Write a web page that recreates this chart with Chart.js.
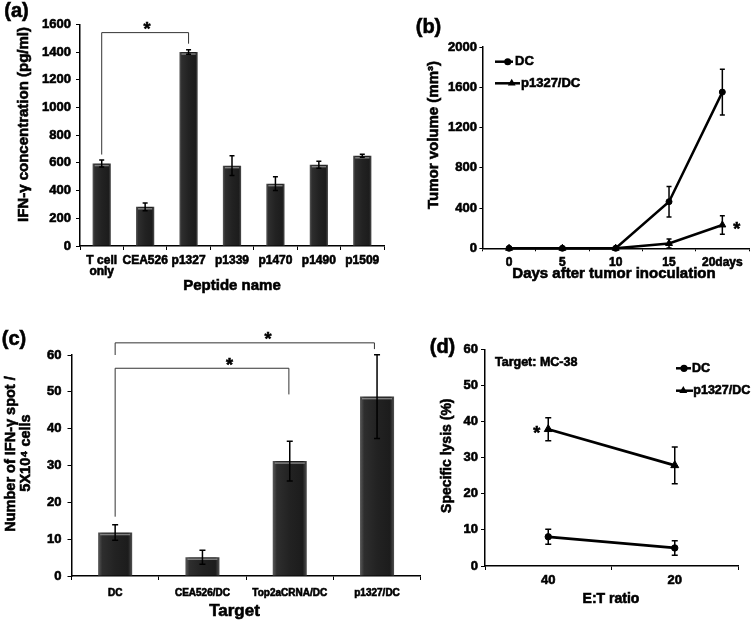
<!DOCTYPE html>
<html>
<head>
<meta charset="utf-8">
<title>IFN-gamma / tumor / ELISPOT / CTL panels</title>
<script src="https://cdn.jsdelivr.net/npm/chart.js@4.4.1/dist/chart.umd.min.js"></script>
<style>
  html, body { margin: 0; padding: 0; background: #fff; }
  #wrap { position: relative; width: 756px; height: 624px; }
  #wrap canvas { position: absolute; left: 0; top: 0; }
</style>
</head>
<body>
<div id="wrap">
  <canvas id="chartA" width="756" height="624"></canvas>
  <canvas id="chartB" width="756" height="624"></canvas>
  <canvas id="chartC" width="756" height="624"></canvas>
  <canvas id="chartD" width="756" height="624"></canvas>
</div>
<script>
// (a) IFN-gamma release per peptide
const peptideLabels = [['T cell', 'only'], 'CEA526', 'p1327', 'p1339', 'p1470', 'p1490', 'p1509'];
const ifnValues = [595, 283, 1400, 580, 450, 587, 651];
const ifnErrors = [25, 28, 17, 71, 49, 25, 11];

// (b) tumor growth
const dayLabels = ['0', '5', '10', '15', '20days'];
const tumorDC = [0, 0, 0, 463, 1552];
const tumorDCErr = [0, 0, 0, 152, 227];
const tumorP1327 = [0, 0, 0, 48, 232];
const tumorP1327Err = [0, 0, 0, 45, 92];

// (c) ELISPOT
const targetLabels = ['DC', 'CEA526/DC', 'Top2aCRNA/DC', 'p1327/DC'];
const spotValues = [11.8, 5.1, 31.2, 48.7];
const spotErrors = [2.1, 1.9, 5.4, 11.4];

// (d) cytotoxicity
const ratioLabels = ['40', '20'];
const lysisDC = [8.1, 5.0];
const lysisDCErr = [2.1, 2.0];
const lysisP1327 = [37.9, 27.9];
const lysisP1327Err = [3.2, 5.1];

// significance marks, in data units (category index, value)
const bracketsA = [{ x1: 0, x2: 2, y: 1540, y1: 660, y2: 1460, sx: 1.04, sy: 1602 }];
const bracketsC = [
  { x1: 0, x2: 2.97, y: 63.3, y1: 60, y2: 61.6, sx: 1.75, sy: 65.6 },
  { x1: 0, x2: 1.99, y: 56.4, y1: 16.1, y2: 49.3, sx: 1.31, sy: 58.5 }
];
const starsB = [{ sx: 4.27, sy: 241 }];
const starsD = [{ sx: -0.09, sy: 38.1 }];

const FONT = '"Liberation Sans", Arial, Helvetica, sans-serif';
const HEAVY = 0.6; // extra stroke to thicken the bold glyphs
Chart.defaults.font.family = FONT;
Chart.defaults.font.weight = 'bold';
Chart.defaults.color = '#000';
Chart.defaults.animation = false;
Chart.defaults.plugins.legend.display = false;
Chart.defaults.plugins.tooltip.enabled = false;

const heavyText = (ctx, text, x, y) => {
  ctx.lineWidth = HEAVY;
  ctx.strokeStyle = '#000';
  ctx.strokeText(text, x, y);
  ctx.fillText(text, x, y);
};

const drawMarker = (ctx, style, x, y, r) => {
  ctx.beginPath();
  if (style === 'triangle') {
    ctx.moveTo(x, y - r);
    ctx.lineTo(x + r * 0.866, y + r * 0.5);
    ctx.lineTo(x - r * 0.866, y + r * 0.5);
    ctx.closePath();
  } else {
    ctx.arc(x, y, r, 0, Math.PI * 2);
  }
  ctx.fill();
};

const drawStar = (ctx, x, y) => {
  ctx.font = 'bold 18px ' + FONT;
  ctx.textAlign = 'center';
  ctx.textBaseline = 'alphabetic';
  heavyText(ctx, '*', x, y + 10.5);
};

// light band near the top of each bar
const barShine = {
  id: 'barShine',
  afterDatasetsDraw(chart) {
    if (chart.config.type !== 'bar') return;
    const ctx = chart.ctx;
    chart.getDatasetMeta(0).data.forEach((el) => {
      const { x, y, width } = el.getProps(['x', 'y', 'width'], true);
      ctx.save();
      ctx.strokeStyle = 'rgba(150,150,150,0.8)';
      ctx.lineWidth = 1.5;
      ctx.beginPath();
      ctx.moveTo(x - width / 2 + 2, y + 2);
      ctx.lineTo(x + width / 2 - 2, y + 2);
      ctx.stroke();
      ctx.restore();
    });
  }
};

const errorBars = {
  id: 'errorBars',
  afterDatasetsDraw(chart, args, opts) {
    const ctx = chart.ctx;
    const yScale = chart.scales.y;
    const cap = opts.cap || 3;
    chart.data.datasets.forEach((ds, i) => {
      if (!ds.errors) return;
      chart.getDatasetMeta(i).data.forEach((el, j) => {
        const e = ds.errors[j];
        if (!e) return;
        const top = yScale.getPixelForValue(ds.data[j] + e);
        const bot = yScale.getPixelForValue(ds.data[j] - e);
        ctx.save();
        ctx.strokeStyle = '#000';
        ctx.lineWidth = 1.5;
        ctx.beginPath();
        ctx.moveTo(el.x, top); ctx.lineTo(el.x, bot);
        ctx.moveTo(el.x - cap, top); ctx.lineTo(el.x + cap, top);
        ctx.moveTo(el.x - cap, bot); ctx.lineTo(el.x + cap, bot);
        ctx.stroke();
        ctx.restore();
      });
    });
  }
};

const brackets = {
  id: 'brackets',
  afterDraw(chart, args, opts) {
    const ctx = chart.ctx;
    const xs = chart.scales.x, ys = chart.scales.y;
    const px = (v) => xs.getPixelForValue(0) + v * (xs.getPixelForValue(1) - xs.getPixelForValue(0));
    ctx.save();
    ctx.fillStyle = '#000';
    (opts.items || []).forEach((b) => {
      if (b.x2 !== undefined) {
        ctx.strokeStyle = '#333';
        ctx.lineWidth = 1;
        ctx.beginPath();
        ctx.moveTo(px(b.x1), ys.getPixelForValue(b.y1));
        ctx.lineTo(px(b.x1), ys.getPixelForValue(b.y));
        ctx.lineTo(px(b.x2), ys.getPixelForValue(b.y));
        ctx.lineTo(px(b.x2), ys.getPixelForValue(b.y2));
        ctx.stroke();
      }
      drawStar(ctx, px(b.sx), ys.getPixelForValue(b.sy));
    });
    ctx.restore();
  }
};

// free text: panel letters, axis titles, notes
const freeText = {
  id: 'freeText',
  afterDraw(chart, args, opts) {
    const ctx = chart.ctx;
    (opts.items || []).forEach((t) => {
      ctx.save();
      ctx.fillStyle = '#000';
      ctx.font = 'bold ' + t.size + 'px ' + FONT;
      ctx.textAlign = t.align || 'center';
      ctx.textBaseline = 'middle';
      ctx.translate(t.x, t.y);
      if (t.rot) ctx.rotate(-Math.PI / 2);
      heavyText(ctx, t.text, 0, 0);
      ctx.restore();
    });
  }
};

// line + marker legend
const keyLegend = {
  id: 'keyLegend',
  afterDraw(chart, args, opts) {
    const ctx = chart.ctx;
    (opts.items || []).forEach((k) => {
      ctx.save();
      ctx.strokeStyle = '#000';
      ctx.fillStyle = '#000';
      ctx.lineWidth = 2.5;
      ctx.beginPath();
      ctx.moveTo(k.x0, k.y);
      ctx.lineTo(k.x1, k.y);
      ctx.stroke();
      drawMarker(ctx, k.style, k.mx, k.y, k.r);
      ctx.font = 'bold ' + opts.size + 'px ' + FONT;
      ctx.textAlign = 'left';
      ctx.textBaseline = 'middle';
      heavyText(ctx, k.text, k.tx, k.y);
      ctx.restore();
    });
  }
};

Chart.register(barShine, errorBars, brackets, freeText, keyLegend);

const yAxis = (max, step, tl, pad, width) => ({
  min: 0,
  max: max,
  ticks: {
    stepSize: step,
    padding: pad,
    font: { size: 13, weight: 'bold', family: FONT },
    textStrokeColor: '#000',
    textStrokeWidth: HEAVY,
    callback: (v) => String(v)
  },
  grid: { drawOnChartArea: false, drawTicks: true, tickLength: tl, color: '#000', lineWidth: 1 },
  border: { color: '#000', width: 1.5 },
  afterFit: (scale) => { scale.width = width; }
});

const xAxis = (tl, pad, size, lineHeight, height) => ({
  type: 'category',
  offset: true,
  ticks: {
    padding: pad,
    font: { size: size, lineHeight: lineHeight, weight: 'bold', family: FONT },
    textStrokeColor: '#000',
    textStrokeWidth: HEAVY,
    maxRotation: 0, minRotation: 0, autoSkip: false
  },
  grid: { offset: true, drawOnChartArea: false, drawTicks: true, tickLength: tl, color: '#000', lineWidth: 1 },
  border: { color: '#000', width: 1.5 },
  afterFit: (scale) => { scale.height = height; }
});

const barFill = (c) => {
  const chart = c.chart;
  const xs = chart.scales.x;
  if (!chart.chartArea || !xs || !xs.ticks || !xs.ticks.length) return '#262626';
  const cx = xs.getPixelForValue(c.dataIndex);
  const half = (xs.width / xs.ticks.length) * c.dataset.barPercentage / 2;
  if (!isFinite(cx) || !isFinite(half)) return '#262626';
  const g = chart.ctx.createLinearGradient(cx - half, 0, cx + half, 0);
  g.addColorStop(0, '#5a5a5a');
  g.addColorStop(0.12, '#2e2e2e');
  g.addColorStop(0.5, '#222222');
  g.addColorStop(0.88, '#1c1c1c');
  g.addColorStop(1, '#505050');
  return g;
};

// (a)
new Chart(document.getElementById('chartA'), {
  type: 'bar',
  data: {
    labels: peptideLabels,
    datasets: [{
      data: ifnValues,
      errors: ifnErrors,
      backgroundColor: barFill,
      borderWidth: 0,
      categoryPercentage: 1,
      barPercentage: 0.42
    }]
  },
  options: {
    responsive: false,
    layout: { padding: { left: 30, top: 24.3, right: 372, bottom: 338 } },
    scales: {
      x: xAxis(4, 6, 12, 0.85, 40),
      y: yAxis(1600, 200, 4, 5, 50)
    },
    plugins: {
      errorBars: { cap: 2.5 },
      brackets: { items: bracketsA },
      freeText: {
        items: [
          { text: '(a)', x: 16.5, y: 11, size: 20 },
          { text: 'IFN-\u03b3 concentration (pg/ml)', x: 24, y: 124.5, size: 15, rot: true },
          { text: 'Peptide name', x: 232, y: 285.7, size: 15 }
        ]
      }
    }
  }
});

// (b)
new Chart(document.getElementById('chartB'), {
  type: 'line',
  data: {
    labels: dayLabels,
    datasets: [
      {
        data: tumorDC, errors: tumorDCErr,
        borderColor: '#000', borderWidth: 2.5, tension: 0, clip: false,
        pointStyle: 'circle', pointRadius: 3, pointBorderWidth: 1,
        pointBackgroundColor: '#000', pointBorderColor: '#000'
      },
      {
        data: tumorP1327, errors: tumorP1327Err,
        borderColor: '#000', borderWidth: 2.5, tension: 0, clip: false,
        pointStyle: 'triangle', pointRadius: 4, pointBorderWidth: 1,
        pointBackgroundColor: '#000', pointBorderColor: '#000'
      }
    ]
  },
  options: {
    responsive: false,
    layout: { padding: { left: 432.4, top: 47, right: 7, bottom: 335.7 } },
    scales: {
      x: xAxis(3, 4, 12, 1.2, 40),
      y: yAxis(2000, 400, 3, 2.5, 50)
    },
    plugins: {
      errorBars: { cap: 2.5 },
      brackets: { items: starsB },
      keyLegend: {
        size: 13,
        items: [
          { style: 'circle', r: 3.5, x0: 495, x1: 513, mx: 507.7, tx: 515, y: 61.7, text: 'DC' },
          { style: 'triangle', r: 4.5, x0: 495, x1: 520, mx: 511.7, tx: 521, y: 83.3, text: 'p1327/DC' }
        ]
      },
      freeText: {
        items: [
          { text: '(b)', x: 428.5, y: 27.5, size: 20 },
          { text: 'Tumor volume (mm\u00b3)', x: 434, y: 135, size: 15, rot: true },
          { text: 'Days after tumor inoculation', x: 614, y: 273.5, size: 15 }
        ]
      }
    }
  }
});

// (c)
new Chart(document.getElementById('chartC'), {
  type: 'bar',
  data: {
    labels: targetLabels,
    datasets: [{
      data: spotValues,
      errors: spotErrors,
      backgroundColor: barFill,
      borderWidth: 0,
      categoryPercentage: 1,
      barPercentage: 0.39
    }]
  },
  options: {
    responsive: false,
    layout: { padding: { left: 21.5, top: 355, right: 335.3, bottom: 18 } },
    scales: {
      x: xAxis(4, 7, 10, 1.2, 30),
      y: yAxis(60, 10, 4, 6, 50)
    },
    plugins: {
      errorBars: { cap: 3 },
      brackets: { items: bracketsC },
      freeText: {
        items: [
          { text: '(c)', x: 14, y: 339, size: 20 },
          { text: 'Number of IFN-\u03b3 spot /', x: 10.6, y: 454, size: 14.5, rot: true },
          { text: '5X10\u2074 cells', x: 26.3, y: 453, size: 14.5, rot: true },
          { text: 'Target', x: 234.5, y: 611.5, size: 17 }
        ]
      }
    }
  }
});

// (d)
new Chart(document.getElementById('chartD'), {
  type: 'line',
  data: {
    labels: ratioLabels,
    datasets: [
      {
        data: lysisDC, errors: lysisDCErr,
        borderColor: '#000', borderWidth: 2.8, tension: 0, clip: false,
        pointStyle: 'circle', pointRadius: 3.2, pointBorderWidth: 1,
        pointBackgroundColor: '#000', pointBorderColor: '#000'
      },
      {
        data: lysisP1327, errors: lysisP1327Err,
        borderColor: '#000', borderWidth: 2.8, tension: 0, clip: false,
        pointStyle: 'triangle', pointRadius: 4.6, pointBorderWidth: 1,
        pointBackgroundColor: '#000', pointBorderColor: '#000'
      }
    ]
  },
  options: {
    responsive: false,
    layout: { padding: { left: 435, top: 349.5, right: 18, bottom: 28 } },
    scales: {
      x: xAxis(4, 3, 13, 1.2, 30),
      y: yAxis(60, 10, 4, 3, 50)
    },
    plugins: {
      errorBars: { cap: 3 },
      brackets: { items: starsD },
      keyLegend: {
        size: 12.5,
        items: [
          { style: 'circle', r: 3.6, x0: 676, x1: 691, mx: 684, tx: 692, y: 368.3, text: 'DC' },
          { style: 'triangle', r: 4.6, x0: 676, x1: 693, mx: 683.3, tx: 693.3, y: 390.7, text: 'p1327/DC' }
        ]
      },
      freeText: {
        items: [
          { text: '(d)', x: 442.5, y: 347.5, size: 20 },
          { text: 'Specific lysis (%)', x: 447, y: 455.7, size: 14, rot: true },
          { text: 'E:T ratio', x: 611, y: 599.2, size: 14 },
          { text: 'Target: MC-38', x: 495, y: 362.7, size: 12.5, align: 'left' }
        ]
      }
    }
  }
});
</script>
</body>
</html>
